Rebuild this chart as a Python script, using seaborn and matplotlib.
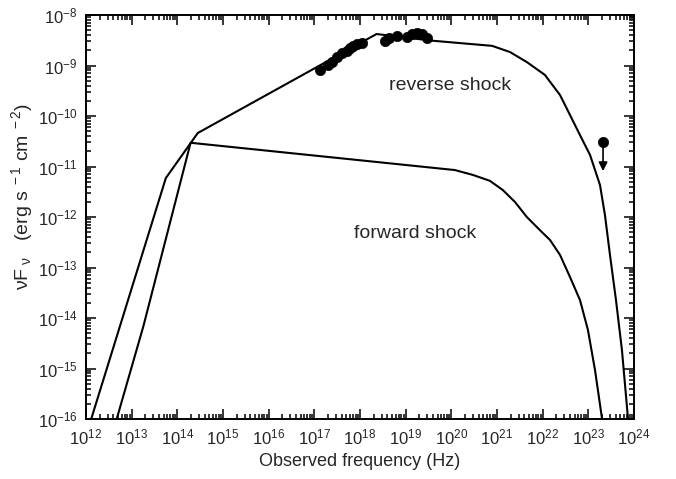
import matplotlib
matplotlib.use("Agg")
import matplotlib.pyplot as plt
import seaborn as sns
import pandas as pd
import numpy as np
from matplotlib.ticker import LogLocator, LogFormatterSciNotation, NullFormatter

# ---- data ----
rs_nu = [1.3e12, 5.6e13, 2.8e14, 2.3e18, 3.8e19, 7.8e20, 1.92e21, 4.5e21, 1.12e22,
         2.4e22, 3.96e22, 6.56e22, 1.09e23, 1.8e23, 2.31e23, 2.98e23, 4.03e23,
         5.45e23, 7.4e23]
rs_flux = [1e-16, 5.9e-12, 4.6e-11, 4.2e-9, 3.1e-9, 2.45e-9, 1.85e-9, 1.17e-9, 6.5e-10,
           2.6e-10, 1.05e-10, 4.2e-11, 1.69e-11, 4.3e-12, 1.1e-12, 1.77e-13, 2.27e-14,
           2.3e-15, 1e-16]

fs_nu = [4.7e12, 1.8e13, 1.95e14, 1.2e20, 2.98e20, 7.0e20, 1.35e21, 2.48e21, 4.5e21,
         8.7e21, 1.45e22, 2.4e22, 3.96e22, 6.56e22, 9.8e22, 1.4e23, 2.0e23]
fs_flux = [1e-16, 6.8e-15, 2.95e-11, 8.5e-12, 6.8e-12, 5.2e-12, 3.4e-12, 1.98e-12, 1.0e-12,
           5.5e-13, 3.5e-13, 1.77e-13, 6.5e-14, 2.27e-14, 5.8e-15, 9.3e-16, 1e-16]

obs_nu = [1.33e17, 1.99e17, 2.43e17, 3.13e17, 4.03e17, 5.19e17, 6.04e17, 7.02e17,
          8.59e17, 1.11e18, 3.53e18, 4.32e18, 6.46e18, 1.07e19, 1.37e19, 1.77e19,
          2.28e19, 2.93e19]
obs_flux = [8.1e-10, 1.02e-9, 1.17e-9, 1.47e-9, 1.77e-9, 1.94e-9, 2.22e-9, 2.43e-9,
            2.67e-9, 2.79e-9, 3.05e-9, 3.51e-9, 3.84e-9, 3.66e-9, 4.21e-9, 4.41e-9,
            4.21e-9, 3.51e-9]

ul_nu = [2.1e23]
ul_flux = [3.0e-11]

x_ticks = [1e12, 1e13, 1e14, 1e15, 1e16, 1e17, 1e18, 1e19, 1e20, 1e21, 1e22, 1e23, 1e24]
y_ticks = [1e-16, 1e-15, 1e-14, 1e-13, 1e-12, 1e-11, 1e-10, 1e-9, 1e-8]

# ---- style ----
sns.set_theme(style="ticks")
plt.rcParams['font.family'] = ['Liberation Sans', 'DejaVu Sans']
plt.rcParams['mathtext.fontset'] = 'custom'
plt.rcParams['mathtext.rm'] = 'Liberation Sans'
plt.rcParams['mathtext.it'] = 'Liberation Sans:italic'
plt.rcParams['mathtext.default'] = 'regular'

fig = plt.figure(figsize=(6.76, 4.79), dpi=100)
ax = fig.add_axes([86/676, 1-419/479, (634-86)/676, (419-15)/479])

rs = pd.DataFrame({"nu": rs_nu, "F": rs_flux})
fs = pd.DataFrame({"nu": fs_nu, "F": fs_flux})
obs = pd.DataFrame({"nu": obs_nu, "F": obs_flux})
ul = pd.DataFrame({"nu": ul_nu, "F": ul_flux})

sns.lineplot(data=rs, x="nu", y="F", ax=ax, sort=False, estimator=None,
             color="black", lw=1.5)
sns.lineplot(data=fs, x="nu", y="F", ax=ax, sort=False, estimator=None,
             color="black", lw=1.5)
sns.scatterplot(data=obs, x="nu", y="F", ax=ax, color="black", s=55,
                edgecolor="black", linewidth=0.5, zorder=5)
sns.scatterplot(data=ul, x="nu", y="F", ax=ax, color="black", s=55,
                edgecolor="black", linewidth=0.5, zorder=5)

ax.set_xscale("log")
ax.set_yscale("log")
ax.set_xlim(1e12, 1e24)
ax.set_ylim(1e-16, 1e-8)

for nu, f in zip(ul_nu, ul_flux):
    ax.annotate("", xy=(nu, f * 0.27), xytext=(nu, f),
                arrowprops=dict(arrowstyle="-|>", color="black", lw=1.2,
                                mutation_scale=13, shrinkA=0, shrinkB=0))

ax.set_xticks(x_ticks)
ax.set_yticks(y_ticks)
ax.xaxis.set_major_formatter(LogFormatterSciNotation())
ax.yaxis.set_major_formatter(LogFormatterSciNotation())
ax.xaxis.set_minor_locator(LogLocator(base=10, subs=np.arange(2, 10), numticks=100))
ax.yaxis.set_minor_locator(LogLocator(base=10, subs=np.arange(2, 10), numticks=100))
ax.xaxis.set_minor_formatter(NullFormatter())
ax.yaxis.set_minor_formatter(NullFormatter())
ax.tick_params(which="both", direction="in", top=True, right=True, color="black",
               width=1.1)
ax.tick_params(which="major", length=7, labelsize=12, pad=6)
ax.tick_params(which="minor", length=3.5)
for s in ax.spines.values():
    s.set_linewidth(1.4)
    s.set_color("black")

ax.set_xlabel("Observed frequency (Hz)", fontsize=13, labelpad=4)
ax.set_ylabel(r"$\nu$F$_{\ \nu}$   (erg s$^{\ -1}$ cm$^{\ -2}$)", fontsize=14)
ax.yaxis.set_label_coords(-0.093, 0.55)

ax.text(9.3e19, 4.1e-10, "reverse shock", fontsize=14, ha="center", va="center")
ax.text(1.6e19, 4.8e-13, "forward shock", fontsize=14, ha="center", va="center")

fig.savefig("out.png", dpi=100)
